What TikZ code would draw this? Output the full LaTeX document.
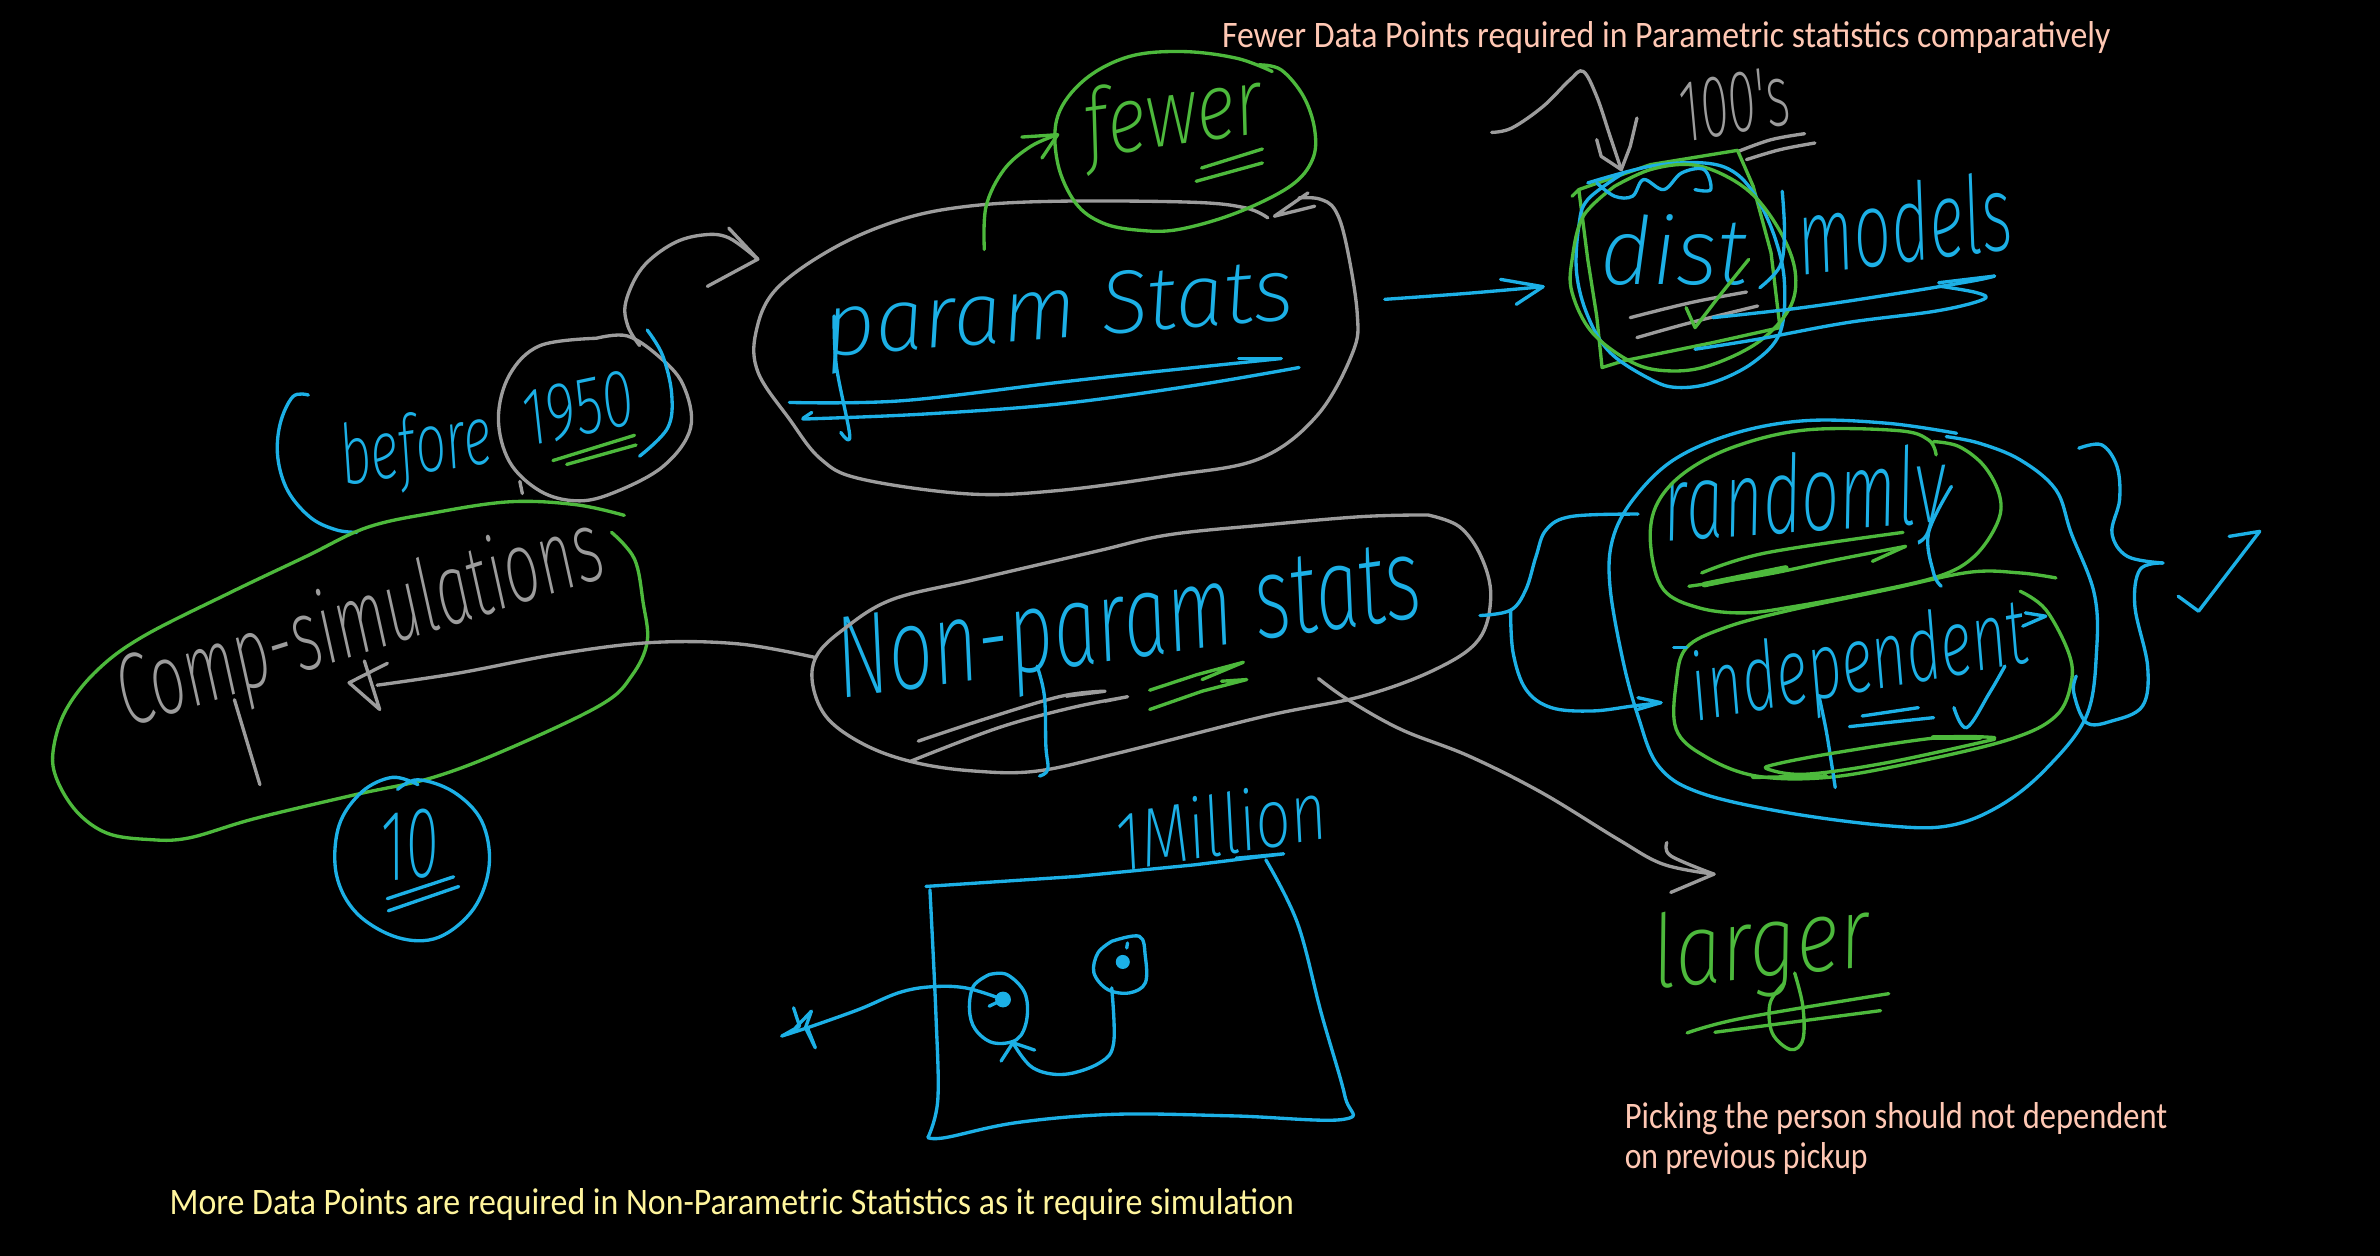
\documentclass[tikz,border=0pt]{standalone}
\usepackage{graphicx}
\usepackage{fontspec}
\newfontfamily\handfont{Fira Sans ExtraLight Italic}
\newfontfamily\notefont{Carlito}
\usetikzlibrary{positioning}
\definecolor{blueink}{HTML}{1CB0E6}
\definecolor{greenink}{HTML}{4DB93C}
\definecolor{grayink}{HTML}{9C9C9C}
\definecolor{peachnote}{HTML}{FFC8B4}
\definecolor{yellownote}{HTML}{FFF59D}
\newlength\pixlen
\setlength\pixlen{0.01cm}
\newcommand{\fitted}[3]{\resizebox{#1\pixlen}{#2\pixlen}{#3}}
\newcommand{\inkline}[2]{\draw[inkstroke,#1] plot[smooth,tension=0.6] coordinates {#2};}
\newcommand{\inkhead}[2]{\draw[inkstroke,#1] plot coordinates {#2};}
\tikzset{
  inkstroke/.style={line width=0.95pt,line cap=round,line join=round},
  handtext/.style={anchor=base,inner sep=0pt,font=\handfont},
  notetext/.style={anchor=base west,inner sep=0pt,font=\notefont},
  pixpart/.style={x=0.01cm,y=-0.01cm},
  leftpart/.style={yshift=-2cm,x=0.005102cm,y=-0.004847cm},
  parampart/.style={xshift=7cm,x=0.004464cm,y=-0.003333cm},
  distpart/.style={xshift=14cm,x=0.004464cm,y=-0.003333cm},
  nonparampart/.style={xshift=7.8cm,yshift=-4.8cm,x=0.004847cm,y=-0.003333cm},
  choicepart/.style={xshift=14.8cm,yshift=-4cm,x=0.005102cm,y=-0.003333cm},
  boxpart/.style={xshift=7.6cm,yshift=-7.8cm,x=0.003954cm,y=-0.003333cm},
  largerpart/.style={xshift=15.8cm,yshift=-8.4cm,x=0.004082cm,y=-0.003333cm},
}
\begin{document}
\begin{tikzpicture}
  \path[use as bounding box,fill=black] (0,0) rectangle (23.8,-12.56);

  % words
  \begin{scope}[pixpart]
    \node[handtext,blueink,rotate=9] (before) at (420,474) {\fitted{153}{62}{before}};
    \node[handtext,blueink,rotate=12] (year) at (584,435) {\fitted{113}{55}{1950}};
    \node[handtext,grayink,rotate=17.5] (comp) at (369,652) {\fitted{505}{75}{Comp-simulations}};
    \node[handtext,blueink,rotate=5] (ten) at (413,879) {\fitted{58}{68}{10}};
    \node[handtext,greenink,rotate=8] (fewer) at (1178,145) {\fitted{180}{70}{fewer}};
    \node[handtext,blueink,rotate=4.5] (param) at (1062,338) {\fitted{470}{62}{param Stats}};
    \node[handtext,blueink] (dist) at (1675,285) {\fitted{147}{70}{dist}};
    \node[handtext,blueink,rotate=7] (models) at (1910,262) {\fitted{216}{80}{models}};
    \node[handtext,grayink,rotate=10] (hundreds) at (1740,133) {\fitted{111}{60}{100's}};
    \node[handtext,blueink,rotate=8] (nonparam) at (1134,658) {\fitted{590}{80}{Non-param stats}};
    \node[handtext,blueink,rotate=4] (randomly) at (1808,532) {\fitted{283}{80}{randomly}};
    \node[handtext,blueink,rotate=10] (independent) at (1865,692) {\fitted{340}{70}{independent}};
    \node[handtext,blueink,rotate=9] (million) at (1226,855) {\fitted{213}{62}{1Million}};
    \node[handtext,greenink,rotate=6] (larger) at (1765,978) {\fitted{219}{75}{larger}};
    \node[notetext,peachnote] (fewernote) at (1222,48) {\fitted{889}{26}{Fewer Data Points required in Parametric statistics comparatively}};
    \node[notetext,peachnote] (pickingnote) at (1625,1129) {\fitted{543}{26}{Picking the person should not dependent}};
    \node[notetext,peachnote] (pickupnote) at (1625,1169) {\fitted{243}{26}{on previous pickup}};
    \node[notetext,yellownote] (morenote) at (169,1215) {\fitted{1125}{26}{More Data Points are required in Non-Parametric Statistics as it require simulation}};
  \end{scope}

  % computer simulations and 1950
  \begin{scope}[leftpart]
    \coordinate (yearN) at (1255,300);
    \coordinate (paramW) at (1487,122);
    \coordinate (compE) at (740,1000);
    \coordinate (nonparamW) at (1600,943);
    \inkline{grayink}{(1170,285) (1060,300) (1000,360) (978,450) (1000,540) (1060,600) (1130,620) (1200,605) (1300,550) (1355,470) (1340,380) (1290,320) (1230,280) (1170,285)}
    \inkhead{grayink}{(1020,580) (1025,605)}
    \inkline{grayink}{(yearN) (1232,260) (1228,210) (1260,140) (1320,90) (1380,72) (1430,78) (paramW)}
    \inkhead{grayink}{(1430,58) (paramW) (1388,178)}
    \inkline{blueink}{(605,402) (575,405) (550,460) (545,530) (565,600) (610,655) (660,680) (700,685)}
    \inkline{blueink}{(1270,268) (1300,320) (1318,400) (1310,470) (1255,528)}
    \inkhead{greenink}{(1085,537) (1245,485)}
    \inkhead{greenink}{(1112,545) (1248,505)}
    \inkline{greenink}{(1225,650) (1130,628) (1000,622) (850,645) (720,675) (600,735) (450,810) (280,900) (190,970) (130,1050) (105,1130) (110,1190) (150,1260) (210,1305) (290,1318) (370,1315) (500,1275) (700,1225) (850,1190) (1000,1130) (1180,1040) (1240,980) (1270,910) (1262,830) (1245,740) (1200,685)}
    \inkhead{grayink}{(460,1030) (510,1205)}
    \inkline{grayink}{(nonparamW) (1450,915) (1280,912) (1100,935) (900,975) (compE)}
    \inkhead{grayink}{(760,955) (685,995) (745,1050) (715,950)}
    \inkline{blueink}{(820,1205) (770,1190) (710,1220) (665,1290) (660,1390) (700,1470) (780,1520) (860,1520) (930,1460) (960,1370) (945,1280) (890,1220) (820,1195) (780,1215)}
    \inkhead{blueink}{(760,1440) (890,1395)}
    \inkhead{blueink}{(762,1465) (900,1415)}
  \end{scope}

  % parametric
  \begin{scope}[parampart]
    \coordinate (paramN) at (636,750);
    \coordinate (fewerW) at (800,405);
    \inkline{grayink}{(1270,655) (1220,625) (1100,608) (800,605) (600,620) (450,660) (300,745) (170,870) (125,1000) (130,1120) (200,1260) (270,1380) (360,1440) (600,1485) (800,1475) (1050,1430) (1250,1380) (1380,1250) (1460,1060) (1470,940) (1445,730) (1420,630) (1385,598) (1340,595)}
    \inkhead{grayink}{(1360,580) (1285,650) (1375,620)}
    \inkline{greenink}{(1280,215) (1200,175) (1080,155) (960,170) (860,240) (800,350) (800,490) (840,610) (900,670) (980,692) (1070,690) (1200,640) (1320,560) (1370,480) (1375,390) (1350,290) (1300,210) (1250,195)}
    \inkline{greenink}{(paramN) (640,620) (680,510) (740,440) (fewerW)}
    \inkhead{greenink}{(720,412) (fewerW) (765,475)}
    \inkhead{greenink}{(1122,505) (1258,448)}
    \inkhead{greenink}{(1110,545) (1258,490)}
    \inkline{blueink}{(300,950) (305,1100) (335,1310) (315,1300)}
    \inkline{blueink}{(200,1210) (450,1205) (800,1150) (1000,1120) (1300,1078)}
    \inkhead{blueink}{(1205,1078) (1300,1078)}
    \inkline{blueink}{(1340,1105) (1100,1160) (800,1215) (500,1245) (230,1260)}
    \inkhead{blueink}{(250,1240) (230,1258)}
  \end{scope}

  % distribution and models
  \begin{scope}[distpart]
    \coordinate (paramE) at (-34,900);
    \coordinate (distW) at (320,862);
    \coordinate (noteS) at (205,398);
    \coordinate (distN) at (495,510);
    \inkline{grayink}{(noteS) (250,385) (320,320) (380,240) (410,215) (440,290) (470,410) (distN)}
    \inkhead{grayink}{(440,420) (450,470) (distN) (515,440) (530,355)}
    \inkline{grayink}{(757,455) (830,420) (905,402)}
    \inkline{grayink}{(775,480) (850,450) (928,430)}
    \inkhead{greenink}{(385,590) (400,570) (560,495) (755,452) (790,560) (830,760) (850,985) (700,1030) (500,1085) (452,1105) (440,950) (420,780) (400,570)}
    \inkline{blueink}{(420,550) (560,500) (680,490) (750,520) (800,600) (840,720) (860,850) (850,1000) (790,1090) (700,1150) (620,1165) (560,1140) (470,1060) (420,950) (395,820) (400,680) (420,600) (500,520)}
    \inkline{greenink}{(480,560) (410,650) (385,780) (385,880) (430,1000) (520,1090) (600,1115) (690,1100) (800,1030) (870,930) (885,830) (860,720) (800,600) (730,530) (650,495) (560,510) (480,560)}
    \inkline{blueink}{(440,550) (480,590) (520,590) (545,540) (590,570) (630,520) (680,510) (695,570) (660,570)}
    \inkline{grayink}{(515,955) (650,910) (775,878)}
    \inkline{grayink}{(530,1015) (650,970) (800,920)}
    \inkhead{greenink}{(640,925) (660,985) (720,880) (780,780)}
    \inkline{blueink}{(700,955) (900,925) (1100,885) (1280,845) (1330,830)}
    \inkhead{blueink}{(1205,850) (1330,830)}
    \inkline{blueink}{(1205,860) (1290,880) (1305,900) (1200,935) (1000,970) (800,1020) (660,1050)}
    \inkline{blueink}{(paramE) (150,882) (distW)}
    \inkhead{blueink}{(225,840) (distW) (260,915)}
    \inkline{blueink}{(855,575) (860,700) (850,800) (805,865)}
  \end{scope}

  % non parametric
  \begin{scope}[nonparampart]
    \coordinate (nonparamS) at (1110,597);
    \coordinate (largerN) at (1925,1185);
    \inkline{grayink}{(1335,105) (1200,110) (1000,135) (800,165) (650,215) (400,300) (230,360) (130,450) (75,530) (68,620) (100,720) (180,800) (280,850) (400,875) (530,875) (700,820) (1000,710) (1200,650) (1350,570) (1440,480) (1465,350) (1445,230) (1400,140) (1335,105)}
    \inkline{grayink}{(285,785) (430,715) (580,650) (670,635) (590,650)}
    \inkline{grayink}{(270,845) (450,745) (600,685) (715,652) (670,665)}
    \inkhead{greenink}{(762,632) (860,585) (955,548) (870,600)}
    \inkhead{greenink}{(762,690) (870,635) (962,600) (910,605)}
    \inkline{blueink}{(530,560) (545,650) (548,800) (552,870) (535,890)}
    \inkline{grayink}{(nonparamS) (1170,660) (1280,750) (1420,830) (1570,940) (1727,1080) (1820,1155) (largerN)}
    \inkline{grayink}{(1828,1090) (1836,1130) (largerN)}
    \inkhead{grayink}{(largerN) (1836,1240)}
  \end{scope}

  % randomly and independent
  \begin{scope}[choicepart]
    \coordinate (nonparamE) at (0,648);
    \coordinate (split) at (60,632);
    \coordinate (randomlyW) at (310,343);
    \coordinate (independentW) at (355,910);
    \inkline{blueink}{(nonparamE) (split) (90,570) (110,470) (130,390) (180,350) (randomlyW)}
    \inkline{blueink}{(split) (65,760) (90,870) (140,925) (220,935) (300,920) (independentW)}
    \inkhead{blueink}{(310,895) (independentW) (310,930)}
    \inkline{blueink}{(935,100) (800,70) (640,62) (500,100) (380,180) (300,300) (260,420) (255,560) (280,780) (310,950) (350,1100) (430,1180) (600,1240) (800,1280) (920,1280) (1020,1220) (1110,1110) (1190,950) (1210,750) (1205,580) (1160,400) (1130,270) (1060,180) (980,130) (915,110)}
    \inkline{greenink}{(895,165) (880,120) (820,92) (640,90) (500,140) (400,220) (345,320) (335,440) (360,570) (430,625) (520,640) (620,620) (760,580) (900,530) (970,470) (1015,370) (1020,290) (990,200) (940,140) (890,125)}
    \inkline{greenink}{(1130,535) (1060,520) (960,518) (800,570) (600,635) (480,685) (405,745) (385,850) (385,990) (440,1070) (540,1130) (680,1135) (850,1090) (1040,1020) (1130,950) (1160,850) (1155,760) (1110,630) (1060,575)}
    \inkline{greenink}{(435,520) (560,460) (830,398)}
    \inkline{greenink}{(410,560) (560,525) (700,480) (835,440)}
    \inkhead{greenink}{(835,440) (770,485)}
    \draw[inkstroke,greenink,line width=1.6pt] (440,555) -- (600,505);
    \inkline{blueink}{(925,260) (880,400) (890,520) (905,560)}
    \inkhead{blueink}{(750,950) (860,925)}
    \inkhead{blueink}{(725,982) (890,955)}
    \inkline{blueink}{(930,925) (955,985) (1000,880) (1030,800)}
    \inkline{blueink}{(665,890) (680,1000) (697,1165)}
    \inkhead{blueink}{(1065,680) (1110,650) (1070,640)}
    \inkhead{blueink}{(380,745) (405,745)}
    \inkline{greenink}{(1010,1015) (900,1015) (700,1060) (580,1095) (565,1110) (640,1125) (800,1090) (1010,1020)}
    \inkhead{greenink}{(535,1135) (680,1130)}
    \draw[inkstroke,greenink,line width=1.6pt] (890,1015) -- (980,1015);
    \inkline{blueink}{(1175,145) (1220,135) (1250,200) (1255,300) (1240,400) (1270,470) (1340,490)}
    \inkline{blueink}{(1340,490) (1295,510) (1285,620) (1310,800) (1300,920) (1240,965) (1190,970) (1165,880) (1170,830)}
    \inkhead{blueink}{(1370,590) (1410,635) (1530,395) (1470,410)}
  \end{scope}

  % one million box
  \begin{scope}[boxpart]
    \node[circle,fill=blueink,inner sep=0pt,minimum size=4.5pt] (dotleft) at (615,660) {};
    \node[circle,fill=blueink,inner sep=0pt,minimum size=4pt] (dotright) at (918,547) {};
    \coordinate (pick) at (120,745);
    \coordinate (loopleft) at (640,790);
    \coordinate (loopright) at (890,625);
    \inkhead{blueink}{(420,320) (800,290) (1100,255) (1325,222) (1205,235)}
    \inkline{blueink}{(1280,240) (1360,430) (1420,700) (1480,950) (1478,1020) (1200,1010) (900,1005) (650,1030) (470,1075) (425,1075)}
    \inkline{blueink}{(425,1075) (450,960) (445,700) (430,330)}
    \inkline{blueink}{(580,585) (625,585) (670,640) (675,720) (650,780) (590,790) (545,750) (530,690) (540,620) (580,585)}
    \inkline{blueink}{(dotleft) (520,625) (430,622) (350,640) (250,690) (pick)}
    \inkhead{blueink}{(85,685) (100,740) (55,770) (pick) (140,805) (115,745) (130,695) (90,745)}
    \inkline{blueink}{(890,485) (960,470) (975,530) (975,610) (935,640) (880,630) (845,580) (855,520) (890,485)}
    \inkhead{blueink}{(930,490) (928,505)}
    \inkline{blueink}{(loopright) (895,790) (860,850) (770,885) (690,865) (loopleft)}
    \inkhead{blueink}{(610,845) (loopleft) (695,812)}
    \inkhead{blueink}{(580,680) (dotleft)}
  \end{scope}

  % underlines of larger
  \begin{scope}[largerpart]
    \inkline{greenink}{(262,580) (400,535) (755,462)}
    \inkline{greenink}{(330,578) (735,513)}
    \inkline{greenink}{(500,430) (465,490) (470,580) (515,630) (545,600) (545,500) (525,400)}
  \end{scope}
\end{tikzpicture}
\end{document}
